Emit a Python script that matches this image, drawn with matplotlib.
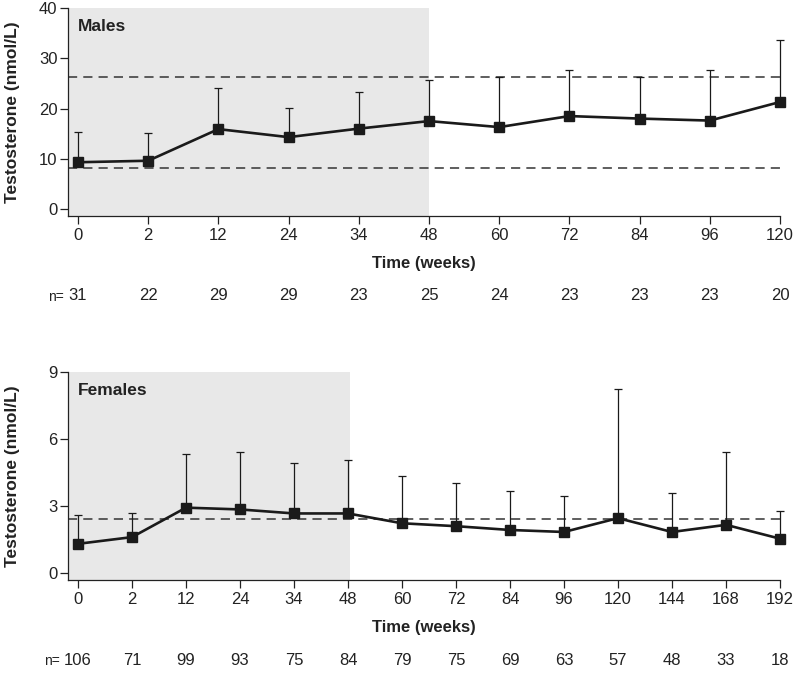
import numpy as np
import matplotlib
matplotlib.use("Agg")
import matplotlib.pyplot as plt

plt.rcParams["font.family"] = ["Liberation Sans", "DejaVu Sans"]

# ── data ────────────────────────────────────────────────────────────────────
male_weeks = ["0", "2", "12", "24", "34", "48", "60", "72", "84", "96", "120"]
male_mean = [9.3, 9.6, 15.9, 14.3, 16.0, 17.5, 16.3, 18.5, 18.0, 17.6, 21.3]
male_upper = [15.3, 15.1, 24.1, 20.2, 23.2, 25.7, 26.3, 27.7, 26.2, 27.6, 33.7]
male_n = [31, 22, 29, 29, 23, 25, 24, 23, 23, 23, 20]
male_ref = [8.2, 26.3]

female_weeks = ["0", "2", "12", "24", "34", "48", "60", "72", "84", "96",
                "120", "144", "168", "192"]
female_mean = [1.29, 1.59, 2.91, 2.83, 2.65, 2.65, 2.21, 2.08, 1.91, 1.82,
               2.44, 1.82, 2.14, 1.52]
female_upper = [2.56, 2.68, 5.31, 5.40, 4.92, 5.04, 4.33, 4.01, 3.65, 3.42,
                8.21, 3.56, 5.40, 2.74]
female_n = [106, 71, 99, 93, 75, 84, 79, 75, 69, 63, 57, 48, 33, 18]
female_ref = [2.4]

SHADE = "#e8e8e8"
INK = "#1a1a1a"
TXT = "#222222"


def draw_panel(ax, weeks, mean, upper, n, refs, ylim, yticks, x_left,
               shade_end, title, n_label_x):
    x = np.arange(len(weeks))
    mean = np.asarray(mean)
    upper = np.asarray(upper)

    ax.set_xlim(x_left, x[-1])
    ax.set_ylim(*ylim)
    ax.axvspan(x_left, shade_end, color=SHADE, zorder=0, lw=0)

    for r in refs:
        ax.axhline(r, color="#333333", lw=1.1, ls=(0, (6, 4)), zorder=1)

    ax.errorbar(x, mean, yerr=[np.zeros_like(mean), upper - mean], fmt="none",
                ecolor=INK, elinewidth=0.9, capsize=3, capthick=0.9,
                zorder=2, clip_on=False)
    ax.plot(x, mean, color=INK, lw=1.9, marker="s", ms=6.5, mfc=INK,
            mec=INK, zorder=3, clip_on=False)

    ax.set_xticks(x)
    ax.set_xticklabels(weeks)
    ax.set_yticks(yticks)
    ax.tick_params(axis="both", direction="out", length=6, width=0.9,
                   labelsize=12, colors=TXT)
    ax.tick_params(axis="y", pad=1.5)
    ax.tick_params(axis="x", pad=2.5)
    for s in ("top", "right"):
        ax.spines[s].set_visible(False)
    for s in ("left", "bottom"):
        ax.spines[s].set_linewidth(0.9)
        ax.spines[s].set_color(TXT)

    ax.set_ylabel("Testosterone (nmol/L)", fontsize=12.5, fontweight="bold",
                  color=TXT)
    ax.yaxis.set_label_coords(-0.068, 0.5)
    ax.text(0.5, -0.228, "Time (weeks)", transform=ax.transAxes, ha="center",
            va="center", fontsize=12, fontweight="bold", color=TXT)
    ax.text(0, 0.91, title, transform=ax.get_xaxis_transform(), ha="left",
            va="center", fontsize=12.5, fontweight="bold", color=TXT)

    trans = ax.get_xaxis_transform()
    for xi, ni in zip(x, n):
        ax.text(xi, -0.385, str(ni), transform=trans, ha="center",
                va="center", fontsize=12, color=TXT)
    ax.text(n_label_x, -0.39, "n=", transform=ax.transAxes, ha="right",
            va="center", fontsize=10, color=TXT)


fig = plt.figure(figsize=(7.93, 6.77), dpi=100)
ax_m = fig.add_axes([0.0858, 0.681, 0.8978, 0.307])
ax_f = fig.add_axes([0.0858, 0.1433, 0.8978, 0.3077])

draw_panel(ax_m, male_weeks, male_mean, male_upper, male_n, male_ref,
           (-1.4, 40), [0, 10, 20, 30, 40], -0.142, 5, "Males", -0.006)
draw_panel(ax_f, female_weeks, female_mean, female_upper, female_n, female_ref,
           (-0.33, 9), [0, 3, 6, 9], -0.185, 5.04, "Females", -0.012)

fig.savefig("out.png", dpi=100)
